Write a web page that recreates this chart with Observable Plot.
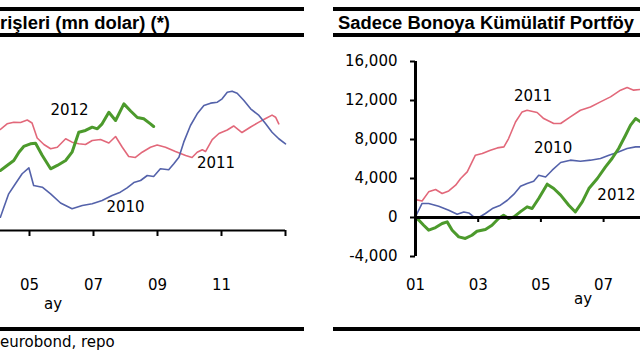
<!DOCTYPE html>
<html>
<head>
<meta charset="utf-8">
<script src="https://cdn.jsdelivr.net/npm/d3@7"></script>
<script src="https://cdn.jsdelivr.net/npm/@observablehq/plot@0.6"></script>
<style>
html,body{margin:0;padding:0;background:#fff;width:640px;height:360px;overflow:hidden;}
#root{position:relative;width:640px;height:360px;overflow:hidden;background:#fff;}
.bar{position:absolute;background:#000;}
.t{position:absolute;white-space:nowrap;line-height:1;transform-origin:0 0;color:#000;}
.title{font-family:"Liberation Sans",Arial,sans-serif;font-weight:bold;font-size:18px;line-height:18px;}
.reg{font-family:"DejaVu Sans",sans-serif;font-size:15px;line-height:15px;}
.chart{position:absolute;}
.chart svg [aria-label="x-axis tick"],.chart svg [aria-label="y-axis tick"]{stroke-width:2px;}
</style>
</head>
<body>
<div id="root">
  <div class="bar" style="left:0;top:7px;width:304px;height:4px"></div>
  <div class="bar" style="left:0;top:33px;width:304px;height:4px"></div>
  <div class="bar" style="left:0;top:327px;width:304px;height:4px"></div>
  <div class="bar" style="left:333px;top:7px;width:307px;height:4px"></div>
  <div class="bar" style="left:333px;top:33px;width:307px;height:4px"></div>
  <div class="bar" style="left:333px;top:327px;width:307px;height:4px"></div>
  <div class="t title" style="left:0;top:14px" data-w="170">rişleri (mn dolar) (*)</div>
  <div class="t title" style="left:338px;top:14px" data-w="296">Sadece Bonoya Kümülatif Portföy</div>
  <div class="t reg" style="left:0;top:335px">eurobond, repo</div>
  <div class="t reg" style="left:44px;top:297px">ay</div>
  <div class="t reg" style="left:574px;top:292px">ay</div>
  <div class="chart" id="left" style="left:0;top:40px;width:305px;height:262px"></div>
  <div class="chart" id="right" style="left:333px;top:40px;width:307px;height:262px"></div>
</div>
<script>
// ---------- Left panel (cumulative portfolio inflows, mn dolar) ----------
const leftXTicks = [5, 7, 9, 11, 13];
const leftXTickLabels = ["05", "07", "09", "11", ""];

const left2010Months = [4.09,4.20,4.35,4.56,4.77,4.98,5.13,5.40,5.66,5.97,6.33,6.65,6.96,7.27,7.58,7.84,8.05,8.26,8.47,8.68,8.88,9.09,9.35,9.51,9.67,9.82,10.03,10.24,10.45,10.66,10.87,11.02,11.18,11.33,11.49,11.70,11.91,12.17,12.38,12.58,12.79,13.00];
const left2010Values = [1360,2390,3760,4790,5820,6430,4620,4440,3760,2820,2230,2560,2740,3080,3590,3930,4380,4920,5130,5640,5540,6330,6230,6840,7520,9060,10770,11970,12820,13060,13160,13510,14180,14290,14080,13330,12480,11800,10940,10080,9410,8890];

const left2011Months = [4.09,4.30,4.51,4.72,4.93,5.08,5.24,5.45,5.66,5.87,6.13,6.33,6.54,6.75,6.96,7.22,7.48,7.69,7.90,8.10,8.31,8.52,8.78,8.99,9.25,9.56,9.88,10.08,10.24,10.40,10.50,10.71,10.92,11.18,11.38,11.64,11.91,12.17,12.38,12.58,12.69,12.79];
const left2011Values = [10360,10940,11110,11080,11330,11030,9490,8820,8380,8540,9410,9060,8890,8820,9230,9330,8970,9640,8540,7590,7490,8030,8540,8770,8540,8100,7690,7490,8030,8280,8100,9330,9950,10310,10720,10050,10620,11110,11490,11830,11620,10940];

const left2012Months = [4.09,4.30,4.51,4.67,4.82,5.03,5.19,5.40,5.66,5.87,6.13,6.33,6.54,6.75,6.96,7.12,7.27,7.48,7.69,7.95,8.16,8.37,8.57,8.78,8.88];
const left2012Values = [6150,6670,7180,8030,8620,8890,8950,7690,6330,6670,7180,8030,10080,10260,10600,10430,10940,12130,11280,12990,12260,11590,11460,10940,10670];

const leftLabelText = ["2012", "2011", "2010"];
const leftLabelMonth = [6.25, 10.83, 8.0];
const leftLabelValue = [12300, 6900, 2390];

// ---------- Right panel (Sadece Bonoya Kümülatif Portföy) ----------
const rightXTicks = [1, 3, 5, 7];
const rightXTickLabels = ["01", "03", "05", "07"];
const rightYTicks = [-4000, 0, 4000, 8000, 12000, 16000];
const rightYTickLabels = ["-4,000", "0", "4,000", "8,000", "12,000", "16,000"];

const right2010Months = [1.00,1.05,1.21,1.42,1.74,2.06,2.33,2.54,2.70,2.86,3.02,3.23,3.45,3.71,3.93,4.14,4.35,4.56,4.77,4.93,5.15,5.36,5.63,5.94,6.26,6.58,6.90,7.17,7.43,7.75,8.02,8.177];
const right2010Values = [60,410,1440,1440,1160,750,340,570,470,60,0,410,920,1260,1770,2390,3210,3490,3720,4340,4160,4850,5640,5880,5770,5880,6050,6390,6670,7080,7240,7240];

const right2011Months = [1.00,1.21,1.42,1.64,1.85,2.06,2.28,2.44,2.65,2.91,3.13,3.39,3.61,3.82,3.97,4.19,4.40,4.56,4.88,5.09,5.41,5.63,5.94,6.26,6.58,6.90,7.22,7.54,7.75,7.96,8.177];
const right2011Values = [1830,1700,2630,2870,2460,2730,3310,4000,4680,6390,6560,6900,7140,7240,8100,9800,10830,11000,10770,10150,9640,9640,10320,11000,11340,11860,12370,13060,13330,13060,13130];

const right2012Months = [1.00,1.11,1.26,1.42,1.64,1.85,2.01,2.17,2.38,2.59,2.80,2.96,3.23,3.44,3.65,3.81,3.97,4.14,4.35,4.56,4.72,4.93,5.20,5.41,5.63,5.89,6.10,6.32,6.53,6.80,7.06,7.27,7.48,7.70,7.86,8.02,8.177];
const right2012Values = [0,-280,-790,-1300,-1030,-620,-450,-1300,-1990,-2150,-1820,-1410,-1230,-790,-100,240,-100,60,600,1090,920,1950,3420,2970,2290,1260,570,1600,2970,4000,5190,6050,7080,8440,9470,10150,9810];

const rightLabelText = ["2011", "2010", "2012"];
const rightLabelMonth = [4.75, 5.39, 7.41];
const rightLabelValue = [12440, 7110, 2290];

// ---------- styling ----------
const RED = "#e2687a", BLUE = "#5462aa", GREEN = "#4c9a2c";
const rows = (ms, vs) => ms.map((m, i) => ({m, v: vs[i]}));
const labels = (t, ms, vs) => t.map((s, i) => ({text: s, m: ms[i], v: vs[i]}));
const baseStyle = {fontFamily: "DejaVu Sans, sans-serif", fontSize: "15px", color: "#000", background: "transparent"};

const leftPlot = Plot.plot({
  width: 305, height: 262,
  marginLeft: 0, marginRight: 20, marginTop: 34, marginBottom: 72,
  style: baseStyle,
  x: {domain: [4.094, 13], ticks: leftXTicks, tickFormat: d => leftXTickLabels[leftXTicks.indexOf(d)], tickSize: 6, tickPadding: 43, label: null},
  y: {domain: [0, 16000], axis: null},
  marks: [
    Plot.ruleY([0], {stroke: "#000", strokeWidth: 2}),
    Plot.line(rows(left2011Months, left2011Values), {x: "m", y: "v", stroke: RED, strokeWidth: 1.6}),
    Plot.line(rows(left2010Months, left2010Values), {x: "m", y: "v", stroke: BLUE, strokeWidth: 1.6}),
    Plot.line(rows(left2012Months, left2012Values), {x: "m", y: "v", stroke: GREEN, strokeWidth: 3}),
    Plot.text(labels(leftLabelText, leftLabelMonth, leftLabelValue), {x: "m", y: "v", text: "text", fill: "#000", fontSize: 15})
  ]
});
document.getElementById("left").append(leftPlot);

const rightPlot = Plot.plot({
  width: 307, height: 262,
  marginLeft: 82, marginRight: 0, marginTop: 21, marginBottom: 46,
  style: baseStyle,
  x: {domain: [1, 8.177], ticks: rightXTicks, tickFormat: d => rightXTickLabels[rightXTicks.indexOf(d)], tickSize: 0, tickPadding: 23, label: null},
  y: {domain: [-4000, 16000], ticks: rightYTicks, tickFormat: d => rightYTickLabels[rightYTicks.indexOf(d)], tickSize: 5, tickPadding: 13, label: null},
  marks: [
    Plot.line(rows(right2011Months, right2011Values), {x: "m", y: "v", stroke: RED, strokeWidth: 1.6}),
    Plot.line(rows(right2010Months, right2010Values), {x: "m", y: "v", stroke: BLUE, strokeWidth: 1.6}),
    Plot.line(rows(right2012Months, right2012Values), {x: "m", y: "v", stroke: GREEN, strokeWidth: 3}),
    Plot.ruleY([0], {stroke: "#000", strokeWidth: 3}),
    Plot.ruleX(rightXTicks, {x: d => d, y1: 0, y2: 0, insetBottom: -5, stroke: "#000", strokeWidth: 2}),
    Plot.ruleX([1], {stroke: "#000", strokeWidth: 3}),
    Plot.text(labels(rightLabelText, rightLabelMonth, rightLabelValue), {x: "m", y: "v", text: "text", fill: "#000", fontSize: 15})
  ]
});
document.getElementById("right").append(rightPlot);

// fit the bold titles to the widths they occupy in the reference
document.querySelectorAll("[data-w]").forEach(el => {
  const w = el.getBoundingClientRect().width;
  if (w > 0) el.style.transform = `scaleX(${(+el.dataset.w / w).toFixed(4)})`;
});
</script>
</body>
</html>
